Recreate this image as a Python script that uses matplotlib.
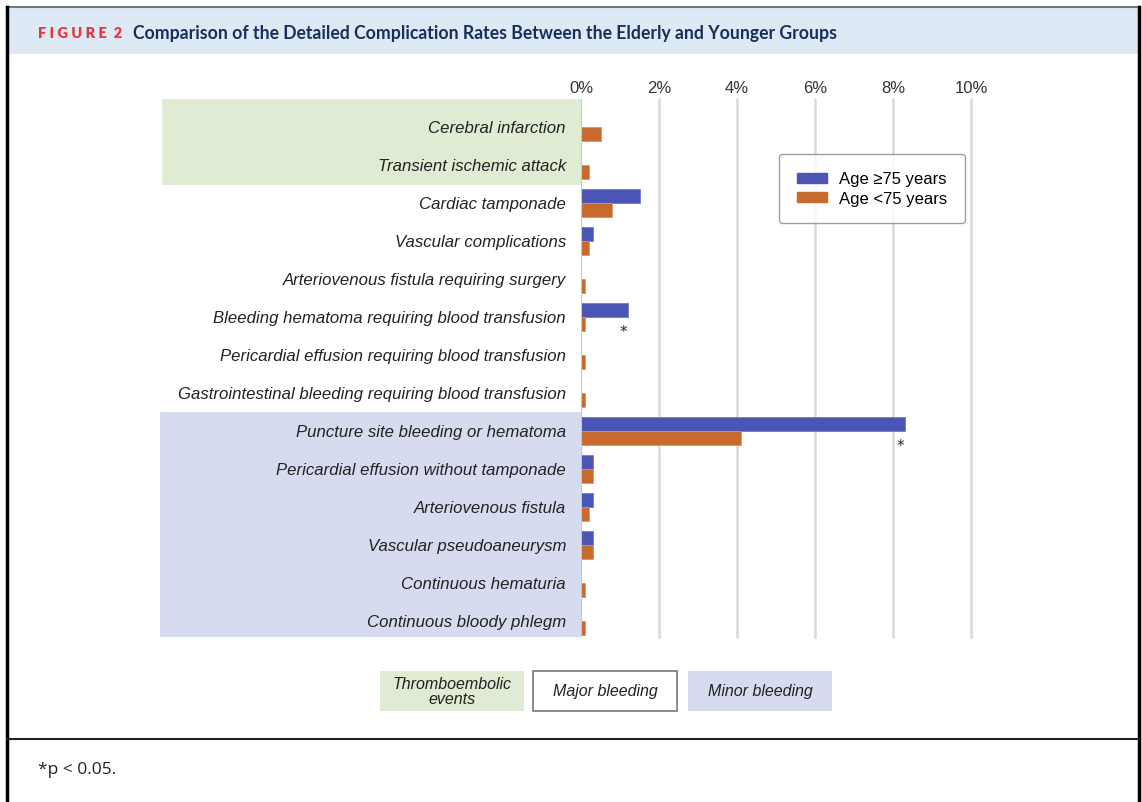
import matplotlib
matplotlib.use("Agg")
import matplotlib.pyplot as plt
from matplotlib.patches import Rectangle, Patch
from matplotlib.lines import Line2D
from matplotlib.transforms import blended_transform_factory

# --- data ---
categories = [
    "Cerebral infarction",
    "Transient ischemic attack",
    "Cardiac tamponade",
    "Vascular complications",
    "Arteriovenous fistula requiring surgery",
    "Bleeding hematoma requiring blood transfusion",
    "Pericardial effusion requiring blood transfusion",
    "Gastrointestinal bleeding requiring blood transfusion",
    "Puncture site bleeding or hematoma",
    "Pericardial effusion without tamponade",
    "Arteriovenous fistula",
    "Vascular pseudoaneurysm",
    "Continuous hematuria",
    "Continuous bloody phlegm",
]
age_ge75 = [0, 0, 1.5, 0.3, 0, 1.2, 0, 0, 8.3, 0.3, 0.3, 0.3, 0, 0]
age_lt75 = [0.5, 0.2, 0.8, 0.2, 0.1, 0.1, 0.1, 0.1, 4.1, 0.3, 0.2, 0.3, 0.1, 0.1]
significant = [5, 8]  # rows with p < 0.05
xticks = [0, 2, 4, 6, 8, 10]
group_names = ["Thromboembolic\nevents", "Major bleeding", "Minor bleeding"]

BLUE = "#4a55b6"
ORANGE = "#c86a2e"
GREEN_BG = "#dfebd2"
LAV_BG = "#d6dbef"
HEAD_BG = "#dde9f5"

W, H = 1142, 803
fig = plt.figure(figsize=(W / 100, H / 100), dpi=100)


def fx(px):
    return px / W


def fy(py):
    return 1 - py / H


# --- frame / header ---
fig.add_artist(Rectangle((fx(8), fy(55)), fx(1130), 46 / H, facecolor=HEAD_BG,
                         edgecolor="none", transform=fig.transFigure))
fig.add_artist(Line2D([fx(7), fx(1139)], [fy(8), fy(8)], color="#777777", lw=1.5,
                      transform=fig.transFigure))
fig.add_artist(Line2D([fx(7), fx(7)], [fy(8), 0], color="black", lw=2.5,
                      transform=fig.transFigure))
fig.add_artist(Line2D([fx(1139), fx(1139)], [fy(8), 0], color="black", lw=2.5,
                      transform=fig.transFigure))
fig.add_artist(Line2D([fx(7), fx(1139)], [fy(740), fy(740)], color="#222222", lw=1.5,
                      transform=fig.transFigure))

fig.text(fx(38), fy(33), "F I G U R E  2", color="#e8343c", fontsize=10.5,
         fontweight="heavy", family="Lato", va="center")
fig.text(fx(133), fy(33), "Comparison of the Detailed Complication Rates Between the Elderly and Younger Groups",
         color="#1b2d5b", fontsize=12.7, fontweight="bold", family="Lato", va="center")
fig.text(fx(38), fy(770), "*p < 0.05.", fontsize=12.5, family="Open Sans", va="center",
         color="#222222")

# --- main axes ---
ax = fig.add_axes([fx(581), fy(638), (971 - 581) / W, (638 - 100) / H])
ax.set_xlim(0, 10)
ax.set_ylim(13.42, -0.74)

n = len(categories)
ys = list(range(n))
bh = 0.36
ax.barh([y - bh / 2 for y in ys], age_ge75, height=bh, color=BLUE,
        edgecolor="#6f7ad0", linewidth=0.6, zorder=3)
ax.barh([y + bh / 2 for y in ys], age_lt75, height=bh, color=ORANGE,
        edgecolor="#e0935f", linewidth=0.6, zorder=3)

for i in significant:
    ax.text(age_ge75[i] - 0.12, i + 0.38, "*", ha="center", va="center",
            fontsize=11, color="#222222", zorder=4)

for x in xticks[1:]:
    ax.axvline(x, color="#d9d9d9", lw=1.8, zorder=1, clip_on=False)
ax.axvline(0, color="#c8c8c8", lw=1.5, zorder=4)

for s in ax.spines.values():
    s.set_visible(False)
ax.xaxis.tick_top()
ax.set_xticks(xticks)
ax.set_xticklabels([f"{x}%" for x in xticks], fontsize=12, family="Liberation Sans",
                   color="#333333")
ax.tick_params(axis="x", length=0, pad=3)
ax.set_yticks([])

# category labels and group shading
tr = blended_transform_factory(ax.transAxes, ax.transData)
ax_w = 971 - 581
for i, name in enumerate(categories):
    ax.text(-15 / ax_w, i, name, transform=tr, ha="right", va="center",
            fontsize=12.1, style="italic", family="Liberation Sans", color="#222222")

ax.add_patch(Rectangle((-(581 - 162) / ax_w, -0.74), (581 - 162) / ax_w, 2.27,
                       transform=tr, facecolor=GREEN_BG, edgecolor="none",
                       clip_on=False, zorder=0))
ax.add_patch(Rectangle((-(581 - 160) / ax_w, 7.5), (581 - 160) / ax_w, 5.92,
                       transform=tr, facecolor=LAV_BG, edgecolor="none",
                       clip_on=False, zorder=0))

# legend
leg = ax.legend(handles=[Patch(color=BLUE, label="Age \u226575 years"),
                         Patch(color=ORANGE, label="Age <75 years")],
                loc="upper left", bbox_to_anchor=((779 - 581) / ax_w, 1 - (155 - 100) / 538),
                frameon=True, fancybox=True, edgecolor="#888888",
                handlelength=1.8, handleheight=0.55, handletextpad=0.75,
                borderpad=1.05, borderaxespad=0, labelspacing=0.25,
                prop={"family": "Liberation Sans", "size": 12})
leg.get_frame().set_linewidth(1.0)

# group key boxes
boxes = [(380, GREEN_BG, "none"), (533, "white", "#777777"), (688, LAV_BG, "none")]
for (x0, fc, ec), name in zip(boxes, group_names):
    fig.add_artist(Rectangle((fx(x0), fy(712)), 144 / W, 40 / H, facecolor=fc,
                             edgecolor=ec, lw=1.2, transform=fig.transFigure))
    fig.text(fx(x0 + 72), fy(692), name, ha="center", va="center", fontsize=11.5,
             style="italic", family="Liberation Sans", color="#222222", linespacing=1.05)

fig.savefig("out.png", dpi=100)
